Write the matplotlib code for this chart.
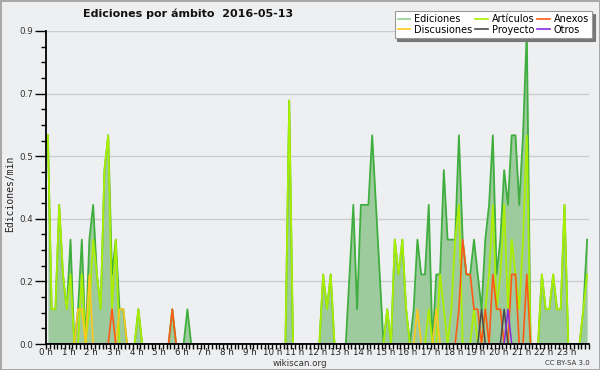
import numpy as np
import matplotlib
matplotlib.use("Agg")
import matplotlib.pyplot as plt
from matplotlib.lines import Line2D
from matplotlib.ticker import FixedLocator

# 10-minute bins, one row per hour (values = edits/min)
ediciones = [
    0.6, 0.1, 0.1, 0.4, 0.2, 0.1,   # 0 h
    0.3, 0, 0.1, 0.3, 0, 0.3,       # 1 h
    0.4, 0.2, 0.1, 0.5, 0.6, 0.2,   # 2 h
    0.3, 0.1, 0.1, 0, 0, 0,         # 3 h
    0.1, 0, 0, 0, 0, 0,             # 4 h
    0, 0, 0, 0.1, 0, 0,             # 5 h
    0, 0.1, 0, 0, 0, 0,             # 6 h
    0, 0, 0, 0, 0, 0,               # 7 h
    0, 0, 0, 0, 0, 0,               # 8 h
    0, 0, 0, 0, 0, 0,               # 9 h
    0, 0, 0, 0, 0.7, 0,             # 10 h
    0, 0, 0, 0, 0, 0,               # 11 h
    0, 0.2, 0.1, 0.2, 0, 0,         # 12 h
    0, 0, 0.2, 0.4, 0.1, 0.4,       # 13 h
    0.4, 0.4, 0.6, 0.4, 0.2, 0,     # 14 h
    0.1, 0, 0.3, 0.2, 0.3, 0.1,     # 15 h
    0, 0.1, 0.3, 0.2, 0.2, 0.4,     # 16 h
    0, 0.2, 0.2, 0.5, 0.3, 0.3,     # 17 h
    0.3, 0.6, 0.3, 0.2, 0.2, 0.3,   # 18 h
    0.2, 0.1, 0.3, 0.4, 0.6, 0.2,   # 19 h
    0.3, 0.5, 0.4, 0.6, 0.6, 0.4,   # 20 h
    0.6, 0.9, 0, 0, 0, 0.2,         # 21 h
    0.1, 0.1, 0.2, 0.1, 0.1, 0.4,   # 22 h
    0, 0, 0, 0, 0.1, 0.3,           # 23 h
]
articulos = [
    0.6, 0.1, 0.1, 0.4, 0.2, 0.1,
    0.2, 0, 0, 0.2, 0, 0.1,
    0.3, 0.2, 0.1, 0.5, 0.6, 0.1,
    0.3, 0, 0, 0, 0, 0,
    0.1, 0, 0, 0, 0, 0,
    0, 0, 0, 0, 0, 0,
    0, 0, 0, 0, 0, 0,
    0, 0, 0, 0, 0, 0,
    0, 0, 0, 0, 0, 0,
    0, 0, 0, 0, 0, 0,
    0, 0, 0, 0, 0.7, 0,
    0, 0, 0, 0, 0, 0,
    0, 0.2, 0.1, 0.2, 0, 0,
    0, 0, 0, 0, 0, 0,
    0, 0, 0, 0, 0, 0,
    0.1, 0, 0.3, 0.2, 0.3, 0.1,
    0, 0, 0, 0, 0, 0.1,
    0, 0, 0.2, 0.1, 0, 0.1,
    0.3, 0.4, 0, 0, 0, 0.1,
    0, 0, 0.1, 0.2, 0.4, 0.1,
    0.2, 0.4, 0.1, 0.3, 0.2, 0.1,
    0.3, 0.6, 0, 0, 0, 0.2,
    0.1, 0.1, 0.2, 0.1, 0.1, 0.4,
    0, 0, 0, 0, 0.1, 0.2,
]
discusiones = [0.0] * 144
for k, v in {8: 0.1, 9: 0.1, 11: 0.2, 19: 0.1, 20: 0.1, 98: 0.1, 103: 0.1}.items():
    discusiones[k] = v
anexos = [0.0] * 144
for k, v in {17: 0.1, 33: 0.1, 109: 0.1, 110: 0.3, 111: 0.2, 112: 0.2, 113: 0.1,
             114: 0.1, 116: 0.1, 118: 0.2, 119: 0.1, 120: 0.1, 123: 0.2, 124: 0.2,
             127: 0.2}.items():
    anexos[k] = v
proyecto = [0.0] * 144
for k, v in {115: 0.1, 121: 0.1}.items():
    proyecto[k] = v
otros = [0.0] * 144
otros[122] = 0.1

hour_labels = [f"{h} h" for h in range(24)]
series_names = ["Ediciones", "Discusiones", "Artículos", "Proyecto", "Anexos", "Otros"]

BG = "#eeeff1"
C_EDIC = "#3fae3f"
C_FILL = "#9dcb9d"
C_ART = "#aaee00"
C_DISC = "#ffc81e"
C_ANX = "#ff5a14"
C_PROY = "#4a4a4a"
C_OTR = "#8a2be2"

t = (np.arange(144) + 0.5) / 6.0

fig = plt.figure(figsize=(6, 3.7), dpi=100, facecolor=BG)
ax = fig.add_axes([46 / 600, 26 / 370, 543 / 600, 313 / 370])
ax.set_facecolor(BG)

ax.fill_between(t, 0, ediciones, color=C_FILL, lw=0, zorder=1)
ax.plot(t, ediciones, color=C_EDIC, lw=1.3, zorder=2)
ax.plot(t, articulos, color=C_ART, lw=1.3, zorder=3)
ax.plot(t, discusiones, color=C_DISC, lw=1.2, zorder=4)
ax.plot(t, anexos, color=C_ANX, lw=1.2, zorder=5)
ax.plot(t, proyecto, color=C_PROY, lw=1.1, zorder=6)
ax.plot(t, otros, color=C_OTR, lw=1.1, zorder=7)

ax.set_xlim(0, 24)
ax.set_ylim(0, 0.9)

yt = np.linspace(0, 0.9, 6)
ax.set_yticks(yt)
ax.set_yticklabels([f"{v:.1f}" for v in yt])
ax.yaxis.set_minor_locator(FixedLocator(np.linspace(0, 0.9, 21)))
ax.set_xticks(range(24))
ax.set_xticklabels(hour_labels)
ax.xaxis.set_minor_locator(FixedLocator(np.arange(0, 24.001, 1 / 6)))

ax.tick_params(axis="y", which="major", length=8, width=1, labelsize=6.3, pad=1, colors="#000000", labelcolor="#333333")
ax.tick_params(axis="y", which="minor", length=3.5, width=1)
ax.tick_params(axis="x", which="major", length=3.5, width=1, labelsize=6.3, pad=-0.5, labelcolor="#222222")
ax.tick_params(axis="x", which="minor", length=3.5, width=1)

ax.grid(axis="y", which="major", color="#cccccc", lw=1)
ax.set_axisbelow(True)
for s in ["top", "right"]:
    ax.spines[s].set_visible(False)
for s in ["left", "bottom"]:
    ax.spines[s].set_linewidth(1.3)
    ax.spines[s].set_zorder(10)

fig.text(188 / 600, 1 - 14 / 370, "Ediciones por ámbito  2016-05-13", ha="center", va="center",
         fontsize=8, fontweight="bold", color="#111111")
fig.text(10 / 600, 1 - 194 / 370, "Ediciones/min", rotation=90, ha="center", va="center",
         fontsize=7, family="DejaVu Sans Mono", color="#222222")
fig.text(300 / 600, 1 - 363 / 370, "wikiscan.org", ha="center", va="center", fontsize=6.3, color="#333333")
fig.text(590 / 600, 1 - 363 / 370, "CC BY-SA 3.0", ha="right", va="center", fontsize=5, color="#333333")

colors = {"Ediciones": "#8fd08f", "Discusiones": C_DISC, "Artículos": C_ART,
          "Proyecto": C_PROY, "Anexos": C_ANX, "Otros": C_OTR}
handles = [Line2D([], [], color=colors[n], lw=1.2) for n in series_names]
leg = fig.legend(handles, series_names, ncol=3, loc="upper right",
                 bbox_to_anchor=(592 / 600, 1 - 11 / 370), fontsize=7,
                 frameon=True, fancybox=False, shadow={"color": "#777777", "alpha": 1},
                 handlelength=1.3, handletextpad=0.4, columnspacing=0.3,
                 labelspacing=0.1, borderpad=0.3, borderaxespad=0)
leg.get_frame().set_edgecolor("#999999")
leg.get_frame().set_linewidth(0.8)

fig.patch.set_edgecolor("#a8a8a8")
fig.patch.set_linewidth(2)
fig.savefig("out.png", dpi=100, facecolor=BG, edgecolor="#a8a8a8")
